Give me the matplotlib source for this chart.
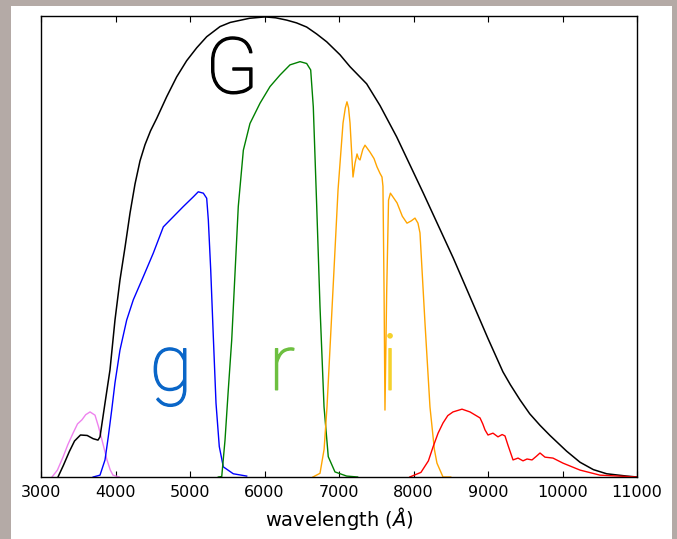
import matplotlib
matplotlib.use("Agg")
import matplotlib.pyplot as plt
import matplotlib.patheffects as pe
from matplotlib.patches import Rectangle

# broad band G and the SDSS-like filters (u, g, r, i, z)
G_wave = [3228, 3300, 3380, 3450, 3530, 3620, 3700, 3765, 3792, 3859, 3926,
          3993, 4060, 4128, 4195, 4262, 4329, 4396, 4470, 4553, 4687, 4821,
          4955, 5090, 5224, 5403, 5540, 5800, 6007, 6150, 6298, 6430, 6566,
          6700, 6835, 7013, 7148, 7371, 7550, 7774, 8132, 8535, 8800, 9000,
          9200, 9300, 9430, 9560, 9698, 9832, 10055, 10235, 10414, 10593,
          10862, 11000]
G_resp = [0.0, 0.025, 0.055, 0.078, 0.091, 0.090, 0.083, 0.080, 0.087,
          0.160, 0.232, 0.340, 0.427, 0.498, 0.572, 0.635, 0.685, 0.720,
          0.750, 0.777, 0.824, 0.867, 0.902, 0.930, 0.954, 0.976, 0.985,
          0.994, 0.997, 0.995, 0.990, 0.984, 0.975, 0.960, 0.943, 0.915,
          0.889, 0.852, 0.805, 0.737, 0.615, 0.474, 0.375, 0.300, 0.228,
          0.200, 0.167, 0.137, 0.112, 0.090, 0.056, 0.032, 0.016, 0.007,
          0.002, 0.0]

u_wave = [3148, 3220, 3295, 3360, 3430, 3490, 3550, 3600, 3658, 3725, 3770,
          3819, 3886, 3930, 3966, 4050]
u_resp = [0.0, 0.015, 0.043, 0.07, 0.095, 0.115, 0.124, 0.135, 0.141, 0.134,
          0.11, 0.08, 0.037, 0.015, 0.004, 0.0]

g_wave = [3700, 3792, 3859, 3903, 3949, 3993, 4060, 4150, 4239, 4373, 4507,
          4642, 4776, 4910, 5044, 5111, 5179, 5224, 5246, 5278, 5313, 5349,
          5393, 5447, 5581, 5761]
g_resp = [0.0, 0.004, 0.037, 0.087, 0.145, 0.204, 0.275, 0.340, 0.384,
          0.434, 0.485, 0.542, 0.564, 0.586, 0.607, 0.618, 0.615, 0.604,
          0.557, 0.449, 0.304, 0.160, 0.066, 0.022, 0.007, 0.002]

r_wave = [5380, 5426, 5470, 5514, 5560, 5604, 5648, 5716, 5805, 5940, 6074,
          6208, 6342, 6477, 6566, 6620, 6655, 6701, 6745, 6799, 6856, 6946,
          7103, 7250]
r_resp = [0.0, 0.001, 0.080, 0.189, 0.297, 0.441, 0.586, 0.708, 0.766,
          0.810, 0.846, 0.871, 0.893, 0.900, 0.896, 0.882, 0.802, 0.586,
          0.369, 0.152, 0.044, 0.011, 0.002, 0.0]

i_wave = [6650, 6745, 6800, 6839, 6919, 6987, 7054, 7085, 7107, 7128, 7148,
          7188, 7215, 7242, 7262, 7282, 7320, 7349, 7416, 7470, 7510, 7550,
          7577, 7590, 7605, 7617, 7640, 7665, 7690, 7779, 7850, 7913, 7970,
          8020, 8060, 8087, 8154, 8221, 8280, 8315, 8396, 8500]
i_resp = [0.0, 0.008, 0.06, 0.152, 0.405, 0.622, 0.767, 0.80, 0.813, 0.80,
          0.767, 0.65, 0.68, 0.70, 0.69, 0.687, 0.71, 0.719, 0.704, 0.69,
          0.672, 0.658, 0.65, 0.63, 0.40, 0.145, 0.40, 0.60, 0.615, 0.594,
          0.565, 0.55, 0.555, 0.561, 0.55, 0.529, 0.334, 0.152, 0.06, 0.03,
          0.0, 0.0]

z_wave = [7950, 8100, 8200, 8262, 8330, 8396, 8460, 8530, 8651, 8758, 8893,
          8930, 8960, 9000, 9067, 9134, 9190, 9228, 9268, 9336, 9403, 9470,
          9524, 9591, 9650, 9698, 9765, 9872, 10007, 10235, 10503, 11000]
z_resp = [0.0, 0.01, 0.035, 0.065, 0.095, 0.117, 0.133, 0.141, 0.147, 0.141,
          0.128, 0.115, 0.102, 0.091, 0.095, 0.087, 0.092, 0.089, 0.069,
          0.037, 0.041, 0.035, 0.039, 0.037, 0.045, 0.052, 0.043, 0.041,
          0.03, 0.015, 0.004, 0.0]

xticks = [3000, 4000, 5000, 6000, 7000, 8000, 9000, 10000, 11000]

# band labels: text, wavelength, height, colour
labels = [("G", 5564, 0.832, "black"),
          ("g", 4745, 0.189, "#0a66c8"),
          ("r", 6235, 0.189, "#6dbf40"),
          ("i", 7685, 0.189, "#f5d22c")]

fig = plt.figure(figsize=(6.77, 5.39), dpi=100, facecolor="#b4aaa6")
# white sheet the plot sits on
fig.patches.append(Rectangle((11 / 677, 0), 661 / 677, 533 / 539,
                             transform=fig.transFigure, facecolor="white",
                             edgecolor="none", zorder=-10))

ax = fig.add_axes([41 / 677, 62 / 539, 596 / 677, 461.5 / 539])

ax.plot(u_wave, u_resp, color="violet", lw=1.0)
ax.plot(G_wave, G_resp, color="black", lw=1.1)
ax.plot(g_wave, g_resp, color="blue", lw=1.0)
ax.plot(r_wave, r_resp, color="green", lw=1.0)
ax.plot(i_wave, i_resp, color="orange", lw=1.0)
ax.plot(z_wave, z_resp, color="red", lw=1.0)

for txt, x, y, c in labels:
    ax.text(x, y, txt, color=c, fontsize=56, ha="center", va="baseline",
            family="Roboto", fontweight="light",
            path_effects=[pe.withStroke(linewidth=1.0, foreground=c)])

ax.set_xlim(3000, 11000)
ax.set_ylim(0, 1)
ax.set_xticks(xticks)
ax.set_yticks([])
ax.tick_params(axis="x", direction="in", top=True, length=4, width=0.8,
               labelsize=11.5, pad=6)
for s in ax.spines.values():
    s.set_linewidth(1.0)
ax.set_xlabel(r"wavelength ($\AA$)", fontsize=14, labelpad=3)

fig.savefig("out.png", dpi=100, facecolor=fig.get_facecolor())
